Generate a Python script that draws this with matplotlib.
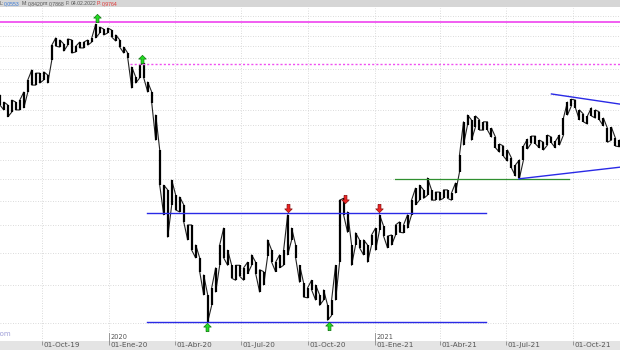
import numpy as np
import pandas as pd
import matplotlib
matplotlib.use("Agg")
import matplotlib.pyplot as plt
import matplotlib.transforms as mtransforms
from matplotlib.patches import Rectangle
from matplotlib.ticker import FixedLocator, NullLocator

#######################################################
# DATOS: máximo y mínimo de cada tramo
#######################################################
maximos = [
    0.751, 0.726, 0.716, 0.733, 0.726, 0.733, 0.762, 0.808, 0.848, 0.835,
    0.835, 0.840, 0.827, 0.956, 0.990, 0.980, 0.961, 0.985, 0.980, 0.951,
    0.970, 0.970, 0.980, 0.990, 1.058, 1.043, 1.033, 1.038, 1.028, 1.004,
    0.980, 0.947, 0.920, 0.860, 0.819, 0.868, 0.877, 0.800, 0.762, 0.682,
    0.576, 0.486, 0.475, 0.498, 0.463, 0.459, 0.442, 0.401, 0.401, 0.364,
    0.342, 0.315, 0.286, 0.296, 0.326, 0.364, 0.395, 0.355, 0.330, 0.330,
    0.330, 0.326, 0.335, 0.347, 0.335, 0.323, 0.320, 0.373, 0.355, 0.335,
    0.347, 0.355, 0.421, 0.395, 0.364, 0.330, 0.303, 0.296, 0.307, 0.300,
    0.286, 0.293, 0.272, 0.279, 0.330, 0.452, 0.456, 0.427, 0.364, 0.386,
    0.373, 0.373, 0.364, 0.382, 0.395, 0.421, 0.399, 0.380, 0.382, 0.401,
    0.407, 0.401, 0.421, 0.452, 0.479, 0.486, 0.475, 0.503, 0.475, 0.470,
    0.470, 0.475, 0.475, 0.468, 0.491, 0.562, 0.660, 0.682, 0.666, 0.679,
    0.666, 0.660, 0.660, 0.640, 0.613, 0.593, 0.587, 0.576, 0.554, 0.536,
    0.549, 0.587, 0.607, 0.616, 0.616, 0.604, 0.598, 0.619, 0.613, 0.601,
    0.619, 0.672, 0.726, 0.736, 0.733, 0.699, 0.685, 0.679, 0.706, 0.699,
    0.692, 0.672, 0.640, 0.643, 0.610, 0.604,
]
minimos = [
    0.716, 0.699, 0.676, 0.692, 0.699, 0.699, 0.706, 0.762, 0.788, 0.788,
    0.796, 0.808, 0.796, 0.890, 0.951, 0.947, 0.929, 0.956, 0.920, 0.925,
    0.943, 0.943, 0.956, 0.970, 0.990, 1.014, 1.004, 1.014, 0.994, 0.975,
    0.947, 0.920, 0.898, 0.777, 0.796, 0.816, 0.816, 0.762, 0.723, 0.604,
    0.486, 0.421, 0.378, 0.442, 0.431, 0.427, 0.407, 0.373, 0.355, 0.342,
    0.320, 0.286, 0.251, 0.272, 0.290, 0.330, 0.342, 0.330, 0.310, 0.307,
    0.313, 0.307, 0.317, 0.330, 0.317, 0.290, 0.300, 0.345, 0.335, 0.320,
    0.326, 0.330, 0.347, 0.373, 0.342, 0.304, 0.283, 0.282, 0.293, 0.279,
    0.272, 0.279, 0.253, 0.259, 0.279, 0.335, 0.421, 0.387, 0.330, 0.364,
    0.359, 0.347, 0.335, 0.364, 0.355, 0.391, 0.380, 0.359, 0.364, 0.382,
    0.387, 0.386, 0.395, 0.421, 0.442, 0.452, 0.456, 0.463, 0.452, 0.452,
    0.452, 0.456, 0.456, 0.452, 0.468, 0.518, 0.590, 0.650, 0.604, 0.644,
    0.634, 0.634, 0.634, 0.613, 0.582, 0.570, 0.559, 0.546, 0.528, 0.508,
    0.503, 0.549, 0.579, 0.596, 0.593, 0.582, 0.576, 0.590, 0.596, 0.582,
    0.590, 0.619, 0.682, 0.713, 0.706, 0.666, 0.660, 0.653, 0.679, 0.672,
    0.666, 0.647, 0.598, 0.604, 0.587, 0.585,
]
fechas = pd.date_range("2019-08-04", periods=len(maximos), freq="132h")

# Niveles horizontales (valor, desde, hasta)
techo = (1.069, "2019-08-01", "2021-12-10")
techo_punteado = (0.873, "2020-01-30", "2021-12-10")
canal_sup = (0.425, "2020-02-22", "2021-06-03")
canal_inf = (0.251, "2020-02-22", "2021-06-03")
soporte = (0.501, "2021-01-29", "2021-09-25")
# Directrices (fecha inicio, valor, fecha fin, valor)
directriz_sup = ("2021-09-01", 0.755, "2021-12-04", 0.719)
directriz_inf = ("2021-07-18", 0.501, "2021-12-04", 0.530)

# Señales
senal_compra_fechas = ["2019-12-15", "2020-02-15", "2020-05-15", "2020-10-30"]
senal_compra_valores = [1.090, 0.894, 0.245, 0.246]
senal_venta_fechas = ["2020-09-03", "2020-11-21", "2021-01-07"]
senal_venta_valores = [0.435, 0.4545, 0.435]

ticks_fechas = ["2019-10-01", "2020-01-01", "2020-04-01", "2020-07-01", "2020-10-01",
                "2021-01-01", "2021-04-01", "2021-07-01", "2021-10-01"]
ticks_etiquetas = ["01-Oct-19", "01-Ene-20", "01-Abr-20", "01-Jul-20", "01-Oct-20",
                   "01-Ene-21", "01-Abr-21", "01-Jul-21", "01-Oct-21"]
anios = ["2020", "2021"]
anios_fechas = ["2020-01-01", "2021-01-01"]
niveles_rejilla = np.arange(0.25, 1.101, 0.05)

#######################################################
# FIGURA
#######################################################
W, H = 620, 350
fig = plt.figure(figsize=(W / 100, H / 100), dpi=100)
fig.patch.set_facecolor("white")

def fy(px):
    return 1 - px / H

alto_cab = 7
base_eje = 341
ax = fig.add_axes([0, 1 - base_eje / H, 1, (base_eje - alto_cab - 1) / H])
fig.patches.append(Rectangle((0, 0), 1, 1 - base_eje / H, transform=fig.transFigure,
                             facecolor="#e4e4e4", edgecolor="none", zorder=-1))
fig.patches.append(Rectangle((0, fy(alto_cab)), 1, alto_cab / H, transform=fig.transFigure,
                             facecolor="#d6d6d6", edgecolor="none", zorder=-1))

ax.set_yscale("log")
ax.set_xlim(pd.Timestamp("2019-08-04 05:00"), pd.Timestamp("2021-12-04 08:00"))
ax.set_ylim(0.2289, 1.1437)
for s in ax.spines.values():
    s.set_visible(False)

# rejilla
ax.yaxis.set_major_locator(FixedLocator(niveles_rejilla))
ax.yaxis.set_minor_locator(NullLocator())
ax.tick_params(axis="y", length=0, labelleft=False)
ax.set_xticks(pd.to_datetime(ticks_fechas))
ax.set_xticklabels(ticks_etiquetas)
ax.grid(True, linestyle=(0, (1, 2)), color="#cfcfcf", linewidth=0.6)
ax.tick_params(axis="x", direction="out", length=3, width=0.6, color="#8a8a8a",
               labelsize=5.2, labelcolor="#555555", pad=-2.6)
desplazar = mtransforms.ScaledTranslation(1.5 / 100, 0, fig.dpi_scale_trans)
for lbl in ax.get_xticklabels():
    lbl.set_horizontalalignment("left")
    lbl.set_transform(lbl.get_transform() + desplazar)

# años
mezcla = mtransforms.blended_transform_factory(ax.transData, ax.transAxes)
for a, f in zip(anios, anios_fechas):
    f = pd.Timestamp(f)
    ax.plot([f, f], [0, 0.025], transform=mezcla, color="#8a8a8a", lw=0.6, clip_on=False)
    ax.text(f, 0.004, a, transform=mezcla + desplazar, fontsize=4.8, color="#555555",
            ha="left", va="bottom")

# precio: barras máximo-mínimo unidas en zigzag
zig_x = np.repeat(fechas.values, 2)
zig_y = np.column_stack([maximos, minimos]).ravel()
zig_y[2::4], zig_y[3::4] = np.array(minimos)[1::2], np.array(maximos)[1::2]
ax.plot(zig_x, zig_y, color="#222222", linewidth=0.8, zorder=3)
ax.vlines(fechas, minimos, maximos, color="black", linewidth=1.6, zorder=3)

# niveles
def nivel(n, **kw):
    ax.plot(pd.to_datetime([n[1], n[2]]), [n[0], n[0]], **kw)

nivel(techo, color="#f050f0", lw=1.3, zorder=4)
nivel(techo_punteado, color="#f050f0", lw=1.0, linestyle=(0, (1.5, 1.5)), zorder=4)
nivel(canal_sup, color="#2a2ae6", lw=1.0, zorder=4)
nivel(canal_inf, color="#2a2ae6", lw=1.0, zorder=4)
nivel(soporte, color="#2f8f2f", lw=0.9, zorder=4)
for d in (directriz_sup, directriz_inf):
    ax.plot(pd.to_datetime([d[0], d[2]]), [d[1], d[3]], color="#2a2ae6", lw=1.0, zorder=4)

# señales
flecha_arriba = [(-0.35, -1), (0.35, -1), (0.35, 0.1), (0.9, 0.1), (0, 1),
                 (-0.9, 0.1), (-0.35, 0.1), (-0.35, -1)]
flecha_abajo = [(x, -y) for x, y in flecha_arriba]
ax.plot(pd.to_datetime(senal_compra_fechas), senal_compra_valores, linestyle="none",
        marker=flecha_arriba, markersize=6, markerfacecolor="#22dd22",
        markeredgecolor="#117711", markeredgewidth=0.5, zorder=5)
ax.plot(pd.to_datetime(senal_venta_fechas), senal_venta_valores, linestyle="none",
        marker=flecha_abajo, markersize=6, markerfacecolor="#ee2222",
        markeredgecolor="#881111", markeredgewidth=0.5, zorder=5)

# cabecera
partes = [(0, "L:", "#555555"), (4, "0,0553", "#3a7ad8"), (22, "M:", "#555555"),
          (28, "0,8420", "#555555"), (43, "m:", "#555555"), (49, "0,7868", "#555555"),
          (66, "F:", "#555555"), (71, "04.02.2022", "#555555"), (97, "P:", "#e03030"),
          (102, "0,9764", "#e03030")]
for px, t, c in partes:
    fig.text(px / W, fy(3.8), t, fontsize=3.7, family="Liberation Sans", color=c,
             ha="left", va="center")

fig.text(11 / W, fy(334), "bolsa.com", fontsize=5, color="#a0a0d8", ha="right", va="center")

fig.savefig("out.png", dpi=100)
